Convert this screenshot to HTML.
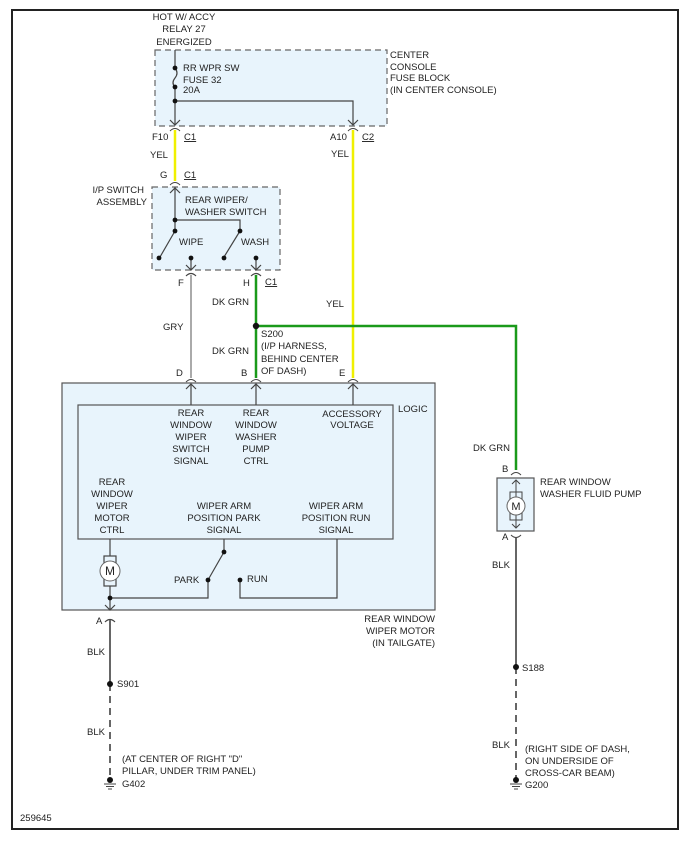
<!DOCTYPE html>
<html><head><meta charset="utf-8"><style>
html,body{margin:0;padding:0;background:#fff}
svg{display:block}
text{font-family:"Liberation Sans",Arial,sans-serif;font-size:9.5px;fill:#222}
</style></head><body>
<svg width="690" height="847" viewBox="0 0 690 847" xmlns="http://www.w3.org/2000/svg">
<defs>
<marker id="ar" markerWidth="10" markerHeight="8" refX="5" refY="7" orient="auto" markerUnits="userSpaceOnUse"></marker>
</defs>
<rect x="12" y="10" width="666" height="819" fill="#fff" stroke="#222" stroke-width="2"/>

<!-- fuse block -->
<rect x="155" y="50" width="232" height="76" fill="#e8f4fc" stroke="#666" stroke-width="1.2" stroke-dasharray="6,4"/>
<text x="184" y="20" text-anchor="middle">HOT W/ ACCY</text>
<text x="184" y="32" text-anchor="middle">RELAY 27</text>
<text x="184" y="45" text-anchor="middle">ENERGIZED</text>
<text x="390" y="58">CENTER</text>
<text x="390" y="70">CONSOLE</text>
<text x="390" y="81">FUSE BLOCK</text>
<text x="390" y="93">(IN CENTER CONSOLE)</text>
<text x="183" y="71">RR WPR SW</text>
<text x="183" y="83">FUSE 32</text>
<text x="183" y="93">20A</text>
<g stroke="#444" stroke-width="1.2" fill="none">
<path d="M175 50 V68 q4 5 0 10 q-4 5 0 9 V125"/>
<path d="M175 101 H353 V125"/>
<path d="M170 120 l5 5 l5 -5 M348 120 l5 5 l5 -5"/>
</g>
<g fill="#111"><circle cx="175" cy="68" r="2.4"/><circle cx="175" cy="87" r="2.4"/><circle cx="175" cy="101" r="2.4"/></g>

<!-- connectors top -->
<g stroke="#444" stroke-width="1" fill="none">
<path d="M170 131 q5 -5 10 0 M348 131 q5 -5 10 0"/>
<path d="M170 185 q5 -5 10 0"/>
</g>
<line x1="175" y1="130" x2="175" y2="181" stroke="#f0f000" stroke-width="2.5"/>
<line x1="353" y1="130" x2="353" y2="378" stroke="#f0f000" stroke-width="2.5"/>
<text x="152" y="140">F10</text><text x="184" y="140" text-decoration="underline">C1</text>
<text x="330" y="140">A10</text><text x="362" y="140" text-decoration="underline">C2</text>
<text x="150" y="158">YEL</text><text x="331" y="157">YEL</text>
<text x="160" y="178">G</text><text x="184" y="178" text-decoration="underline">C1</text>

<!-- switch assembly -->
<rect x="152" y="187" width="128" height="83" fill="#e8f4fc" stroke="#666" stroke-width="1.2" stroke-dasharray="6,4"/>
<text x="144" y="193" text-anchor="end">I/P SWITCH</text>
<text x="147" y="205" text-anchor="end">ASSEMBLY</text>
<text x="185" y="203">REAR WIPER/</text>
<text x="185" y="215">WASHER SWITCH</text>
<text x="179" y="245">WIPE</text><text x="241" y="245">WASH</text>
<g stroke="#444" stroke-width="1.2" fill="none">
<path d="M175 187 V231 M175 220 H240 V231"/>
<path d="M170 193 l5 -5 l5 5"/>
<path d="M175 231 L160 257 M240 231 L224 257"/>
<path d="M191 258 V270 M256 258 V270 M186 265 l5 5 l5 -5 M251 265 l5 5 l5 -5"/>
<path d="M186 276 q5 -5 10 0 M251 276 q5 -5 10 0"/>
</g>
<g fill="#111"><circle cx="175" cy="220" r="2.4"/><circle cx="175" cy="231" r="2.4"/><circle cx="240" cy="231" r="2.4"/><circle cx="159" cy="258" r="2.4"/><circle cx="191" cy="258" r="2.4"/><circle cx="224" cy="258" r="2.4"/><circle cx="256" cy="258" r="2.4"/></g>
<text x="178" y="286">F</text><text x="243" y="286">H</text><text x="265" y="285" text-decoration="underline">C1</text>

<line x1="191" y1="275" x2="191" y2="378" stroke="#aaa" stroke-width="2"/>
<path d="M256 275 V378 M256 326 H516 V470" stroke="#1a9a1a" stroke-width="2.5" fill="none"/>
<circle cx="256" cy="326" r="3.2" fill="#111"/>
<text x="212" y="305">DK GRN</text><text x="326" y="307">YEL</text>
<text x="163" y="330">GRY</text>
<text x="261" y="337">S200</text>
<text x="261" y="349">(I/P HARNESS,</text>
<text x="261" y="362">BEHIND CENTER</text>
<text x="261" y="374">OF DASH)</text>
<text x="212" y="354">DK GRN</text>
<text x="176" y="376">D</text><text x="241" y="376">B</text><text x="339" y="376">E</text>
<g stroke="#444" stroke-width="1" fill="none">
<path d="M186 382 q5 -5 10 0 M251 382 q5 -5 10 0 M348 382 q5 -5 10 0"/>
</g>

<!-- wiper motor module -->
<rect x="62" y="383" width="373" height="227" fill="#e8f4fc" stroke="#555" stroke-width="1.2"/>
<rect x="78" y="405" width="315" height="134" fill="#e8f4fc" stroke="#555" stroke-width="1.2"/>
<g stroke="#444" stroke-width="1.2" fill="none">
<path d="M191 405 V384 M256 405 V384 M353 405 V384"/>
<path d="M186 389 l5 -5 l5 5 M251 389 l5 -5 l5 5 M348 389 l5 -5 l5 5"/>
<path d="M110 539 V556 M110 586 V610 M110 598 H208 V580 L224 552 V539"/>
<path d="M240 580 V598 H337 V539"/>
<path d="M105 605 l5 5 l5 -5"/>
<path d="M105 622 q5 -5 10 0"/>
<rect x="104" y="556" width="12" height="30"/>
</g>
<circle cx="110" cy="571" r="10" fill="#fff" stroke="#666" stroke-width="1"/>
<text x="110" y="575" text-anchor="middle" style="font-size:12px;fill:#222">M</text>
<g fill="#111"><circle cx="110" cy="598" r="2.4"/><circle cx="208" cy="580" r="2.4"/><circle cx="224" cy="552" r="2.4"/><circle cx="240" cy="580" r="2.4"/></g>
<text x="398" y="412">LOGIC</text>
<g text-anchor="middle">
<text x="191" y="416">REAR</text><text x="191" y="428">WINDOW</text><text x="191" y="440">WIPER</text><text x="191" y="452">SWITCH</text><text x="191" y="464">SIGNAL</text>
<text x="256" y="416">REAR</text><text x="256" y="428">WINDOW</text><text x="256" y="440">WASHER</text><text x="256" y="452">PUMP</text><text x="256" y="464">CTRL</text>
<text x="352" y="417">ACCESSORY</text><text x="352" y="428">VOLTAGE</text>
<text x="112" y="485">REAR</text><text x="112" y="497">WINDOW</text><text x="112" y="509">WIPER</text><text x="112" y="521">MOTOR</text><text x="112" y="533">CTRL</text>
<text x="224" y="509">WIPER ARM</text><text x="224" y="521">POSITION PARK</text><text x="224" y="533">SIGNAL</text>
<text x="336" y="509">WIPER ARM</text><text x="336" y="521">POSITION RUN</text><text x="336" y="533">SIGNAL</text>
</g>
<text x="174" y="583">PARK</text><text x="247" y="582">RUN</text>
<text x="435" y="622" text-anchor="end">REAR WINDOW</text>
<text x="435" y="634" text-anchor="end">WIPER MOTOR</text>
<text x="435" y="646" text-anchor="end">(IN TAILGATE)</text>
<text x="96" y="624">A</text>

<!-- left ground -->
<line x1="110" y1="620" x2="110" y2="684" stroke="#666" stroke-width="2"/>
<line x1="110" y1="684" x2="110" y2="778" stroke="#666" stroke-width="2" stroke-dasharray="7,5"/>
<circle cx="110" cy="684" r="3" fill="#111"/>
<circle cx="110" cy="780" r="3" fill="#111"/>
<path d="M104 784 H116 M106 786.5 H114 M108 789 H112" stroke="#444" stroke-width="1"/>
<text x="87" y="655">BLK</text><text x="117" y="687">S901</text>
<text x="87" y="735">BLK</text>
<text x="122" y="762">(AT CENTER OF RIGHT "D"</text>
<text x="122" y="774">PILLAR, UNDER TRIM PANEL)</text>
<text x="122" y="787">G402</text>

<!-- pump -->
<text x="473" y="451">DK GRN</text>
<text x="502" y="472">B</text><text x="502" y="540">A</text>
<rect x="497" y="478" width="37" height="53" fill="#e8f4fc" stroke="#555" stroke-width="1.2"/>
<g stroke="#444" stroke-width="1" fill="none">
<path d="M511 475 q5 -5 10 0 M511 535 q5 5 10 0"/>
<path d="M516 480 V528 M512 484 l4 -4 l4 4 M512 524 l4 4 l4 -4"/>
<rect x="510" y="492" width="12" height="28"/>
</g>
<circle cx="516" cy="506" r="9" fill="#fff" stroke="#666" stroke-width="1"/>
<text x="516" y="510" text-anchor="middle" style="font-size:11px">M</text>
<text x="540" y="485">REAR WINDOW</text>
<text x="540" y="497">WASHER FLUID PUMP</text>
<line x1="516" y1="538" x2="516" y2="667" stroke="#666" stroke-width="2"/>
<line x1="516" y1="667" x2="516" y2="778" stroke="#666" stroke-width="2" stroke-dasharray="7,5"/>
<circle cx="516" cy="667" r="3" fill="#111"/>
<circle cx="516" cy="780" r="3" fill="#111"/>
<path d="M510 784 H522 M512 786.5 H520 M514 789 H518" stroke="#444" stroke-width="1"/>
<text x="492" y="568">BLK</text><text x="522" y="671">S188</text>
<text x="492" y="748">BLK</text>
<text x="525" y="752">(RIGHT SIDE OF DASH,</text>
<text x="525" y="764">ON UNDERSIDE OF</text>
<text x="525" y="776">CROSS-CAR BEAM)</text>
<text x="525" y="788">G200</text>

<text x="20" y="821">259645</text>
</svg>
</body></html>
